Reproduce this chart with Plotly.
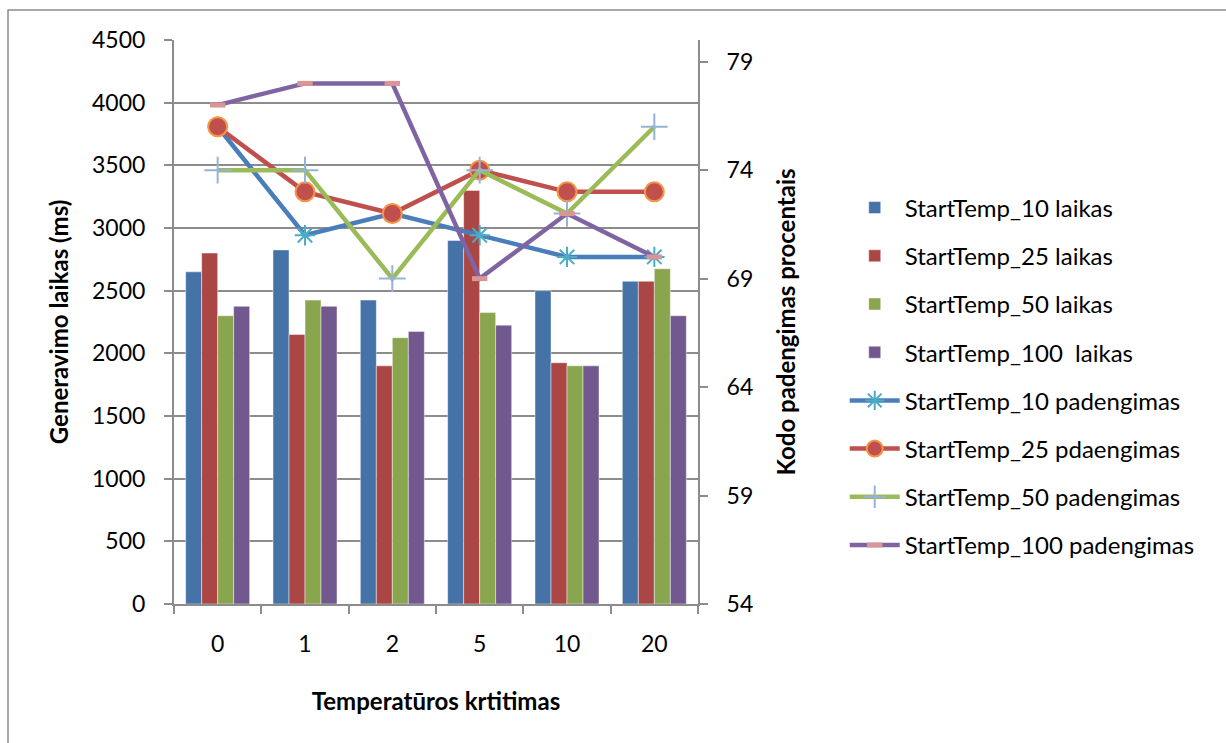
import plotly.graph_objects as go

categories = ["0", "1", "2", "5", "10", "20"]

time_10 = [2650, 2825, 2425, 2900, 2500, 2575]
time_25 = [2800, 2150, 1900, 3300, 1925, 2575]
time_50 = [2300, 2425, 2125, 2325, 1900, 2675]
time_100 = [2375, 2375, 2175, 2225, 1900, 2300]

cov_10 = [76, 71, 72, 71, 70, 70]
cov_25 = [76, 73, 72, 74, 73, 73]
cov_50 = [74, 74, 69, 74, 72, 76]
cov_100 = [77, 78, 78, 69, 72, 70]

left_ticks = [0, 500, 1000, 1500, 2000, 2500, 3000, 3500, 4000, 4500]
right_ticks = [54, 59, 64, 69, 74, 79]

FONT = "Lato"
GRID = "#8c8c8c"

fig = go.Figure()

bar_specs = [
    ("StartTemp_10 laikas", time_10, "#4572A7"),
    ("StartTemp_25 laikas", time_25, "#AA4643"),
    ("StartTemp_50 laikas", time_50, "#89A54E"),
    ("StartTemp_100  laikas", time_100, "#71588F"),
]
for i, (name, vals, col) in enumerate(bar_specs):
    fig.add_trace(go.Bar(
        x=categories, y=vals, name=name, legendgroup=f"g{i}",
        marker=dict(color=col, line=dict(color="rgba(255,255,255,0.45)", width=1)),
        yaxis="y",
    ))

line_specs = [
    ("StartTemp_10 padengimas", cov_10, "#4A7EBB",
     dict(symbol="asterisk-open", size=17, color="#4BACC6", line=dict(color="#4BACC6", width=2))),
    ("StartTemp_25 pdaengimas", cov_25, "#C0504D",
     dict(symbol="circle", size=19, color="#C0504D", line=dict(color="#F79646", width=2))),
    ("StartTemp_50 padengimas", cov_50, "#9BBB59",
     dict(symbol="cross-thin-open", size=19, color="#95B3D7", line=dict(color="#95B3D7", width=2))),
    ("StartTemp_100 padengimas", cov_100, "#8064A2",
     dict(symbol="line-ew-open", size=11, color="#D99694", line=dict(color="#D99694", width=5))),
]
for j, (name, vals, col, mk) in enumerate(line_specs):
    fig.add_trace(go.Scatter(
        x=categories, y=vals, name=name, legendgroup=f"h{j}",
        mode="lines+markers", line=dict(color=col, width=4.5),
        marker=mk, yaxis="y2",
    ))

fig.update_layout(
    width=1226, height=743,
    margin=dict(l=174, r=528, t=40, b=139),
    paper_bgcolor="white", plot_bgcolor="white",
    barmode="group", bargap=0.267, bargroupgap=0,
    font=dict(family=FONT, size=23, color="black"),
    xaxis=dict(
        type="category", showline=True, linecolor=GRID, linewidth=2,
        ticks="outside", tickson="boundaries", ticklen=8, tickcolor=GRID, tickwidth=2,
        showgrid=False, ticklabelstandoff=18,
        title=dict(text="<b>Temperatūros krtitimas</b>", font=dict(size=24), standoff=38),
    ),
    yaxis=dict(
        range=[0, 4500], tickvals=left_ticks, showline=True, linecolor=GRID, linewidth=2,
        ticks="outside", ticklen=8, tickcolor=GRID, tickwidth=2,
        showgrid=True, gridcolor=GRID, gridwidth=2, zeroline=False,
        ticklabelstandoff=14,
        title=dict(text="<b>Generavimo laikas (ms)</b>", font=dict(size=24), standoff=17),
    ),
    yaxis2=dict(
        range=[54, 80], tickvals=right_ticks, overlaying="y", side="right",
        showline=True, linecolor=GRID, linewidth=2,
        ticks="outside", ticklen=8, tickcolor=GRID, tickwidth=2,
        showgrid=False, zeroline=False, ticklabelstandoff=14,
        title=dict(text="<b>Kodo padengimas procentais</b>", font=dict(size=24), standoff=26),
    ),
    legend=dict(
        x=1.28, xanchor="left", y=0.742, yanchor="top",
        traceorder="grouped", tracegroupgap=14, itemwidth=50,
        font=dict(size=24), bgcolor="rgba(0,0,0,0)",
    ),
    showlegend=True,
    shapes=[
        dict(type="rect", xref="paper", yref="paper",
             x0=(8 - 174) / 524, x1=(1240 - 174) / 524,
             y0=(604 - 760) / 564, y1=(604 - 10) / 564,
             line=dict(color="#8c8c8c", width=1.5), layer="below"),
    ],
)

fig.write_html("out.html")
